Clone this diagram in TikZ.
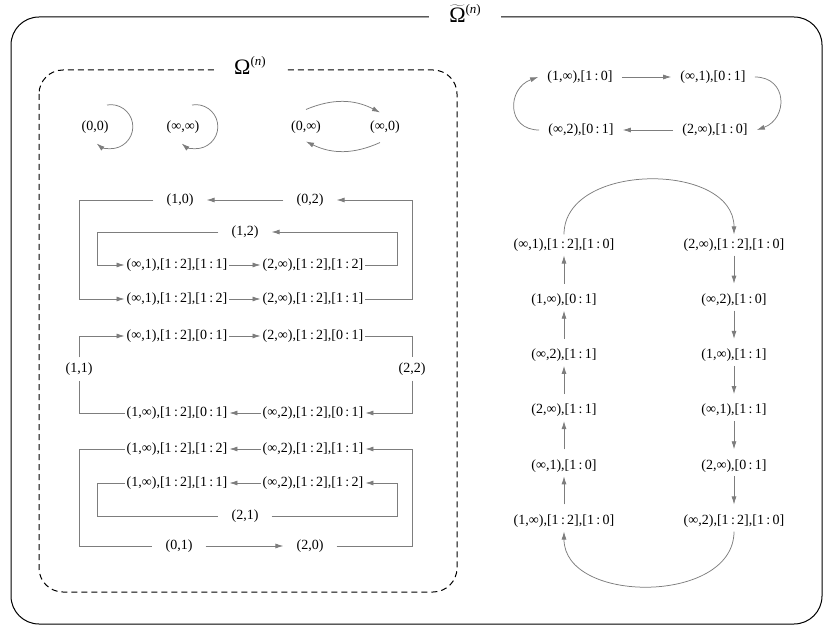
\documentclass[tikz,border=0pt]{standalone}
\usepackage{fontspec}
\setmainfont{Liberation Serif}
\usetikzlibrary{arrows.meta}
\definecolor{edgegray}{RGB}{125,125,125}
\newcommand{\br}[2]{[#1\,:\,#2]}
\begin{document}
\begin{tikzpicture}[x=1pt,y=1pt,
    lbl/.style={inner xsep=2pt,inner ysep=4pt,font=\fontsize{14}{16}\selectfont},
    shortlbl/.style={lbl,inner xsep=13pt,inner ysep=5pt},
    cyclbl/.style={lbl,inner xsep=9pt},
    wire/.style={draw=edgegray,line width=0.75pt},
    arr/.style={wire,-{Latex[length=8pt,width=5pt]}},
    uparr/.style={arr,shorten <=6pt},
    dnarr/.style={arr,shorten >=6pt},
    ttl/.style={fill=white,inner xsep=20pt,font=\fontsize{22}{24}\selectfont}]
    \useasboundingbox (0,0) rectangle (824,-628);
    % frames
    \draw[line width=1pt,rounded corners=28pt] (11,-17) rectangle (822,-624);
    \draw[line width=1pt,dash pattern=on 6pt off 4pt,rounded corners=24pt] (39,-70) rectangle (457,-592);
    \node[ttl,anchor=base] (tt) at (465,-23) {$\widetilde{\mbox{Ω}}$\raisebox{9pt}{\fontsize{13}{14}\selectfont(\textit{n})}};
    \node[ttl,anchor=base] (t) at (250,-75) {Ω\raisebox{9pt}{\fontsize{13}{14}\selectfont(\textit{n})}};
    % rails
    \coordinate (l1) at (79,0);
    \coordinate (l2) at (97,0);
    \coordinate (r1) at (412,0);
    \coordinate (r2) at (397,0);
    % fixed points
    \node[shortlbl] (a1) at (95,-127) {(0,0)};
    \node[shortlbl] (a2) at (183,-127) {(∞,∞)};
    \node[shortlbl] (a3) at (306,-127) {(0,∞)};
    \node[shortlbl] (a4) at (385,-127) {(∞,0)};
    \draw[arr] ([shift={(12,22)}]a1.center) arc[start angle=100,end angle=-130,radius=22];
    \draw[arr] ([shift={(9,22)}]a2.center) arc[start angle=100,end angle=-130,radius=22];
    \draw[arr] ([yshift=6pt]a3.north) to[bend left=25] ([xshift=-5pt,yshift=3pt]a4.north);
    \draw[arr] ([xshift=-5pt,yshift=-4pt]a4.south) to[bend left=25] ([yshift=-3pt]a3.south);
    % first block
    \node[shortlbl] (b1) at (180,-200) {(1,0)};
    \node[shortlbl] (b2) at (310,-200) {(0,2)};
    \node[shortlbl] (b3) at (245,-232) {(1,2)};
    \node[lbl] (b4) at (177,-265) {(∞,1),\br12,\br11};
    \node[lbl] (b5) at (313,-265) {(2,∞),\br12,\br12};
    \node[lbl] (b6) at (177,-299) {(∞,1),\br12,\br12};
    \node[lbl] (b7) at (313,-299) {(2,∞),\br12,\br11};
    \draw[arr] (b2) -- (b1);
    \draw[arr] (b1.west) -- (b1.west -| l1) |- (b6.west);
    \draw[arr] (b6) -- (b7);
    \draw[arr] (b7.east) -- (b7.east -| r1) |- (b2.east);
    \draw[arr] (b3.west) -- (b3.west -| l2) |- (b4.west);
    \draw[arr] (b4) -- (b5);
    \draw[arr] (b5.east) -- (b5.east -| r2) |- (b3.east);
    % second block
    \node[lbl] (c1) at (177,-336) {(∞,1),\br12,\br01};
    \node[lbl] (c2) at (313,-336) {(2,∞),\br12,\br01};
    \node[shortlbl,inner xsep=2pt] (c3) at (79,-369) {(1,1)};
    \node[shortlbl,inner xsep=2pt] (c4) at (412,-369) {(2,2)};
    \node[lbl] (c5) at (177,-413) {(1,∞),\br12,\br01};
    \node[lbl] (c6) at (313,-413) {(∞,2),\br12,\br01};
    \draw[arr] (c3.north) |- (c1.west);
    \draw[arr] (c1) -- (c2);
    \draw[wire] (c2.east) -| (c4.north);
    \draw[arr] (c4.south) |- (c6.east);
    \draw[arr] (c6) -- (c5);
    \draw[wire] (c5.west) -| (c3.south);
    % third block
    \node[lbl] (d1) at (177,-449) {(1,∞),\br12,\br12};
    \node[lbl] (d2) at (313,-449) {(∞,2),\br12,\br11};
    \node[lbl] (d3) at (177,-483) {(1,∞),\br12,\br11};
    \node[lbl] (d4) at (313,-483) {(∞,2),\br12,\br12};
    \node[shortlbl] (d5) at (245,-516) {(2,1)};
    \node[shortlbl] (d6) at (179,-546) {(0,1)};
    \node[shortlbl] (d7) at (310,-546) {(2,0)};
    \draw[arr] (d7.east) -- (d7.east -| r1) |- (d2.east);
    \draw[arr] (d2) -- (d1);
    \draw[wire] (d1.west) -- (d1.west -| l1) |- (d6.west);
    \draw[arr] (d6) -- (d7);
    \draw[arr] (d5.east) -- (d5.east -| r2) |- (d4.east);
    \draw[arr] (d4) -- (d3);
    \draw[wire] (d3.west) -- (d3.west -| l2) |- (d5.west);
    % four-cycle
    \node[cyclbl] (e1) at (580,-77) {(1,∞),\br10};
    \node[cyclbl] (e2) at (713,-77) {(∞,1),\br01};
    \node[cyclbl] (e3) at (715,-130) {(2,∞),\br10};
    \node[cyclbl] (e4) at (581,-130) {(∞,2),\br01};
    \draw[arr] (e1) -- (e2);
    \draw[arr] (e2.east) to[out=0,in=20,looseness=1.6] (e3.east);
    \draw[arr] (e3) -- (e4);
    \draw[arr] (e4.west) to[out=180,in=200,looseness=1.6] (e1.west);
    % twelve-cycle
    \node[lbl] (f1) at (564,-245) {(∞,1),\br12,\br10};
    \node[lbl] (f2) at (564,-300.2) {(1,∞),\br01};
    \node[lbl] (f3) at (564,-355.4) {(∞,2),\br11};
    \node[lbl] (f4) at (564,-410.6) {(2,∞),\br11};
    \node[lbl] (f5) at (564,-465.8) {(∞,1),\br10};
    \node[lbl] (f6) at (564,-521) {(1,∞),\br12,\br10};
    \node[lbl] (g1) at (734,-245) {(2,∞),\br12,\br10};
    \node[lbl] (g2) at (734,-300.2) {(∞,2),\br10};
    \node[lbl] (g3) at (734,-355.4) {(1,∞),\br11};
    \node[lbl] (g4) at (734,-410.6) {(∞,1),\br11};
    \node[lbl] (g5) at (734,-465.8) {(2,∞),\br01};
    \node[lbl] (g6) at (734,-521) {(∞,2),\br12,\br10};
    \draw[uparr] (f6) -- (f5);
    \draw[uparr] (f5) -- (f4);
    \draw[uparr] (f4) -- (f3);
    \draw[uparr] (f3) -- (f2);
    \draw[uparr] (f2) -- (f1);
    \draw[arr] (f1.north) to[out=90,in=90,looseness=1.1] (g1.north);
    \draw[dnarr] (g1) -- (g2);
    \draw[dnarr] (g2) -- (g3);
    \draw[dnarr] (g3) -- (g4);
    \draw[dnarr] (g4) -- (g5);
    \draw[dnarr] (g5) -- (g6);
    \draw[arr] (g6.south) to[out=-90,in=-90,looseness=1.1] (f6.south);
\end{tikzpicture}
\end{document}
